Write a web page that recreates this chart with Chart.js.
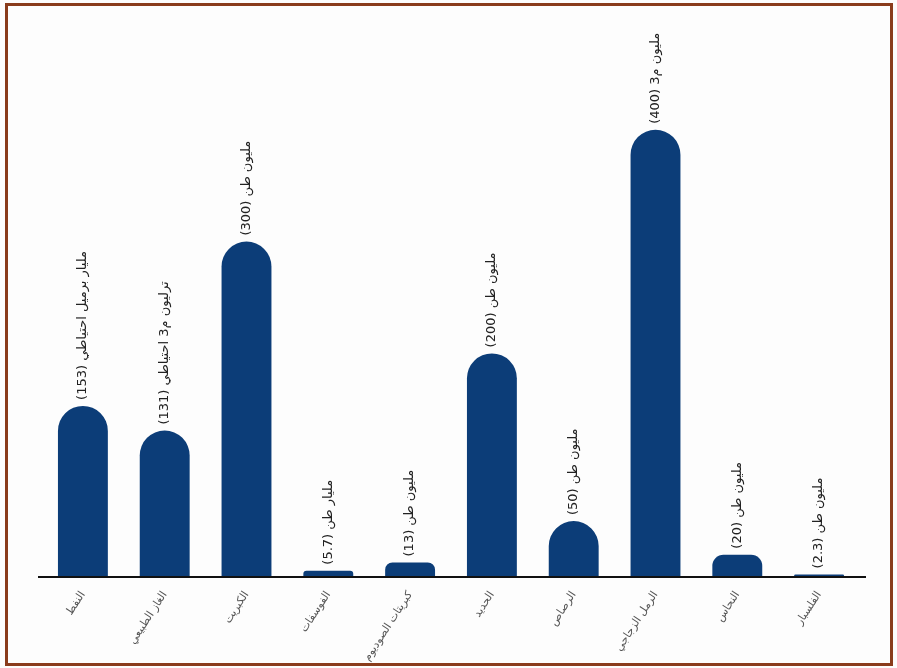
<!DOCTYPE html>
<html lang="ar">
<head>
<meta charset="utf-8">
<script src="https://cdn.jsdelivr.net/npm/chart.js@4/dist/chart.umd.min.js"></script>
<style>
  html, body { margin: 0; padding: 0; background: #fff; }
  #wrap { position: relative; width: 897px; height: 668px; }
</style>
</head>
<body>
<div id="wrap"><canvas id="resChart" width="897" height="668"></canvas></div>
<script>
// الفئات والقيم
const categories = ['النفط', 'الغاز الطبيعي', 'الكبريت', 'الفوسفات', 'كبريتات الصوديوم', 'الحديد', 'الرصاص', 'الرمل الزجاجي', 'النحاس', 'الفلسبار'];
const reserves = [153, 131, 300, 5.7, 13, 200, 50, 400, 20, 2.3];
const units = ['مليار برميل احتياطي', 'ترليون م3 احتياطي', 'مليون طن', 'مليار طن', 'مليون طن', 'مليون طن', 'مليون طن', 'مليون م3', 'مليون طن', 'مليون طن'];
const valueLabels = reserves.map((v, i) => '(' + v + ') ' + units[i]);

const FONT = "'DejaVu Sans', sans-serif";

// etiquetas verticales encima de cada barra + marco + eje
const decorPlugin = {
    id: 'decor',
    beforeDraw(chart) {
        const ctx = chart.ctx;
        ctx.save();
        ctx.fillStyle = '#fdfdfd';
        ctx.fillRect(0, 0, chart.width, chart.height);
        ctx.strokeStyle = '#8a3c1c';
        ctx.lineWidth = 3;
        ctx.strokeRect(6.5, 4.5, chart.width - 12, chart.height - 8);
        ctx.restore();
    },
    afterDatasetsDraw(chart) {
        const ctx = chart.ctx;
        const area = chart.chartArea;
        const meta = chart.getDatasetMeta(0);
        ctx.save();
        ctx.strokeStyle = '#111';
        ctx.lineWidth = 2;
        ctx.beginPath();
        ctx.moveTo(area.left - 4, area.bottom);
        ctx.lineTo(area.right + 6, area.bottom);
        ctx.stroke();

        ctx.fillStyle = '#222';
        ctx.font = '13px ' + FONT;
        ctx.textAlign = 'left';
        ctx.textBaseline = 'middle';
        ctx.direction = 'ltr';
        meta.data.forEach((bar, i) => {
            ctx.save();
            ctx.translate(bar.x, bar.y - 6);
            ctx.rotate(-Math.PI / 2);
            ctx.fillText(valueLabels[i], 0, 0);
            ctx.restore();
        });
        ctx.restore();
    }
};

const ctx = document.getElementById('resChart').getContext('2d');
const chart = new Chart(ctx, {
    type: 'bar',
    data: {
        labels: categories,
        datasets: [{
            data: reserves,
            backgroundColor: '#0c3d78',
            borderWidth: 0,
            borderSkipped: 'bottom',
            borderRadius: { topLeft: 25, topRight: 25, bottomLeft: 0, bottomRight: 0 },
            categoryPercentage: 1,
            barPercentage: 0.61
        }]
    },
    options: {
        responsive: false,
        animation: false,
        layout: {
            padding: { left: 42, right: 37, top: 18, bottom: 0 }
        },
        plugins: {
            legend: { display: false },
            tooltip: { enabled: false }
        },
        scales: {
            x: {
                grid: { display: false },
                border: { display: false },
                ticks: {
                    autoSkip: false,
                    maxRotation: 57,
                    minRotation: 57,
                    color: '#555',
                    padding: 4,
                    font: { family: FONT, size: 11 }
                },
                afterFit(scale) {
                    scale.height = 91;
                }
            },
            y: {
                display: false,
                min: 0,
                max: 500
            }
        }
    },
    plugins: [decorPlugin]
});
</script>
</body>
</html>
